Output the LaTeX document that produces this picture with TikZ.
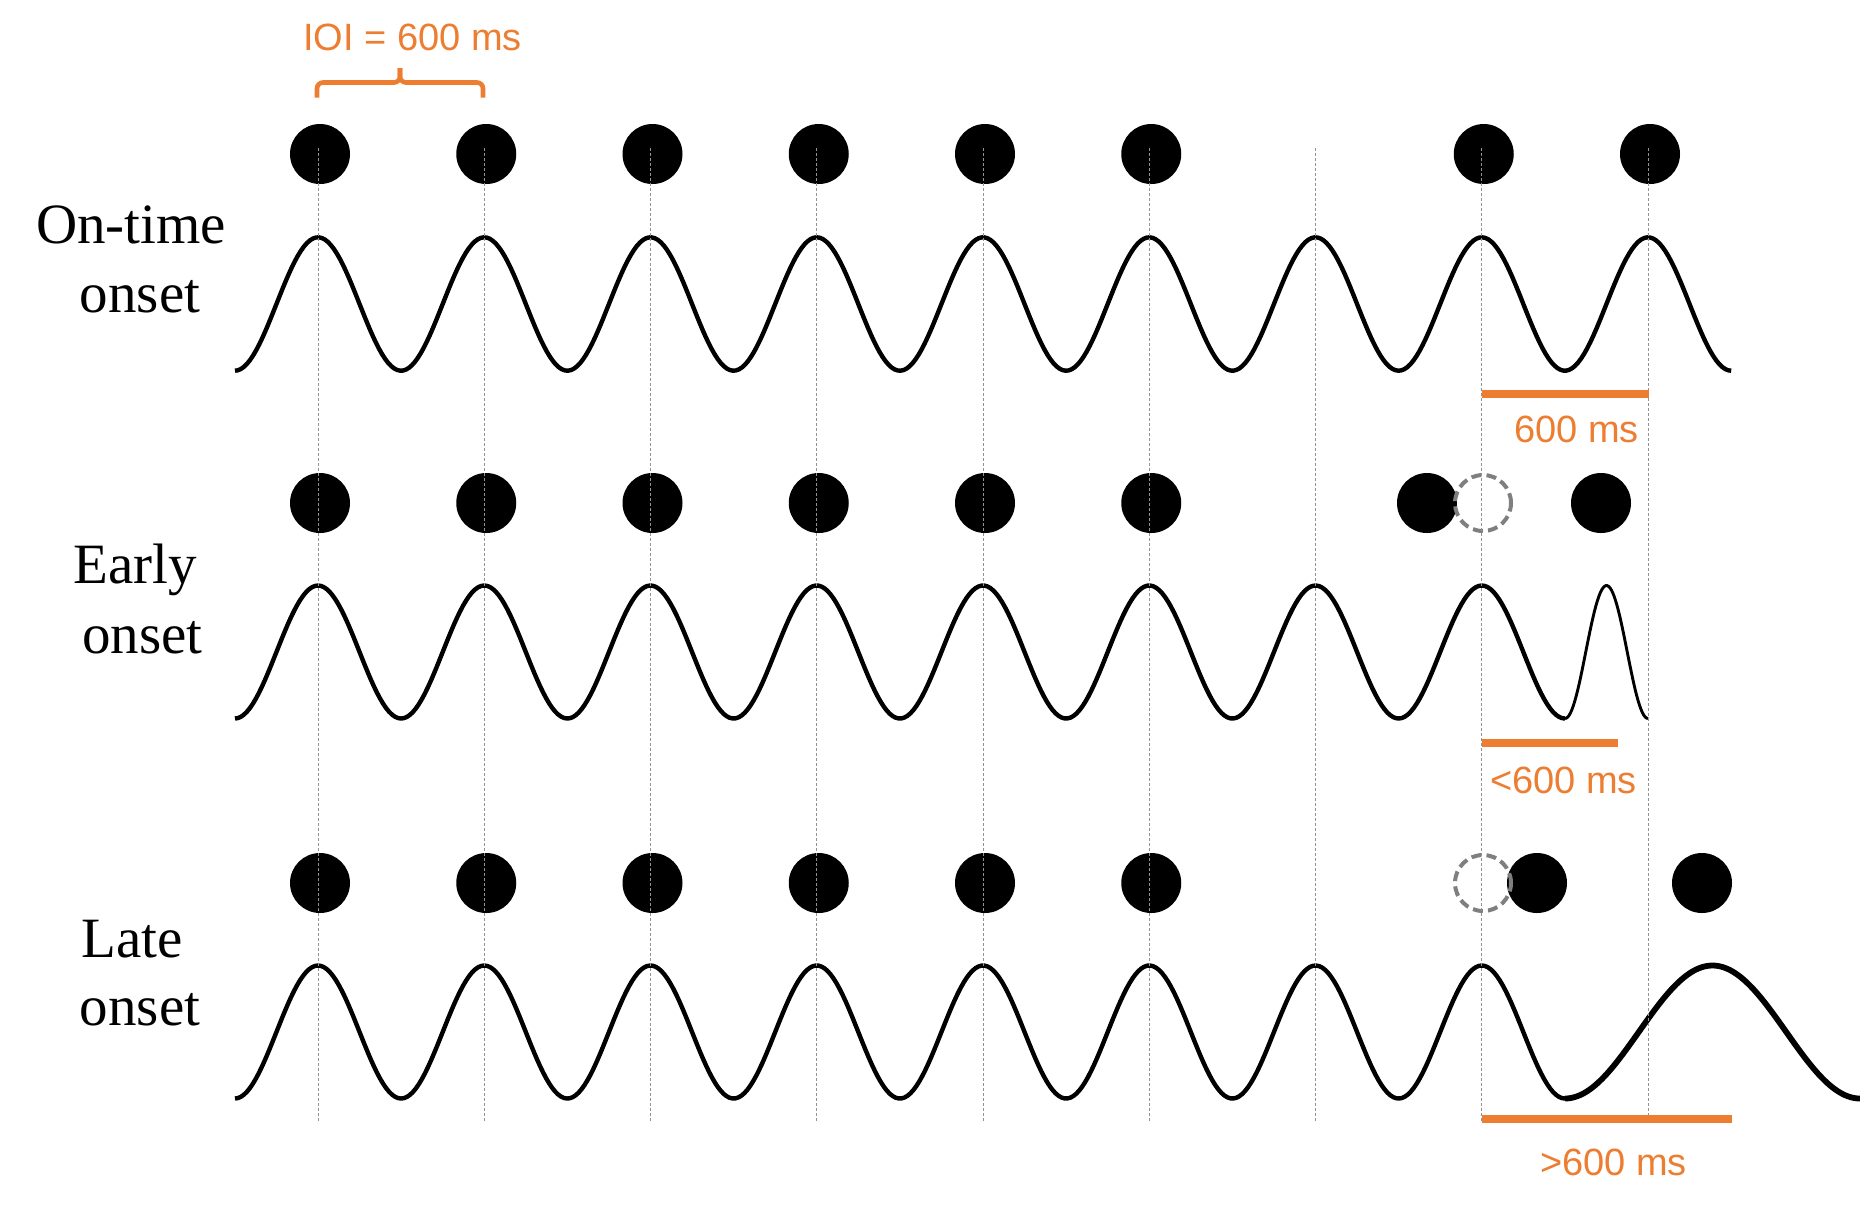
\documentclass[tikz,border=0pt]{standalone}
\usepackage{fontspec}
\setmainfont{Liberation Serif}
\newfontfamily\arialf{Liberation Sans}
\definecolor{orng}{HTML}{ED7D31}
\definecolor{dgray}{HTML}{7F7F7F}
\begin{document}
\begin{tikzpicture}[x=0.5pt,y=-0.5pt,
 dot/.style={circle,fill=black,inner sep=0,minimum size=30pt},
 ghost/.style={circle,draw=dgray,line width=2pt,dash pattern=on 5pt off 2.6pt,inner sep=0,minimum size=28pt},
 wave/.style={line width=2.2pt,line join=round},
 guide/.style={draw=gray!85,line width=0.5pt,dash pattern=on 1.5pt off 1pt},
 bar/.style={draw=orng,line width=4pt},
 brace/.style={draw=orng,line width=2.3pt,rounded corners=3pt},
 lbl/.style={font=\fontsize{28.5}{34}\selectfont,inner sep=0,anchor=base},
 olbl/.style={font=\arialf\fontsize{19}{23}\selectfont,text=orng,inner sep=0,anchor=base}]
\useasboundingbox (0,0) rectangle (1860,1207);

% waves
\draw[wave] plot[domain=235:1731.2,samples=500] (\x,{304-66.7*cos(((\x-318)/166.25)*360)});
\draw[wave] plot[domain=235:1565,samples=450] (\x,{652-66.5*cos(((\x-318)/166.25)*360)});
\draw[wave,line width=1.45pt] plot[domain=1565:1648,samples=60] (\x,{652-66.5*cos(((\x-1606.5)/83)*360)});
\draw[wave] plot[domain=235:1565,samples=450] (\x,{1032-66.5*cos(((\x-318)/166.25)*360)});
\draw[wave,line width=2.9pt] plot[domain=1565:1860,samples=120] (\x,{1032-66.5*cos(((\x-1712.5)/295)*360)});

% dots row 1
\foreach \k in {0,...,5,7,8} \node[dot] (a\k) at ({320+166.25*\k},154) {};
% dots row 2
\foreach \k in {0,...,5} \node[dot] (b\k) at ({320+166.25*\k},503) {};
\node[dot] (bearly) at (1427,503) {};
\node[dot] (blast) at (1601,503) {};
\node[ghost] (bghost) at (1483,503) {};
% dots row 3
\foreach \k in {0,...,5} \node[dot] (c\k) at ({320+166.25*\k},883) {};
\node[dot] (clate) at (1537,883) {};
\node[dot] (clast) at (1702,883) {};
\node[ghost] (cghost) at (1483,883) {};

% guide lines
\foreach \k in {0,...,8} {
  \coordinate (gt\k) at ({318+166.25*\k},148);
  \coordinate (gb\k) at ({318+166.25*\k},1123);
  \draw[guide] (gt\k) -- (gb\k);
}

% bars
\coordinate (p1a) at (1482,394); \coordinate (p1b) at (1649,394);
\coordinate (p2a) at (1482,743); \coordinate (p2b) at (1618,743);
\coordinate (p3a) at (1482,1119); \coordinate (p3b) at (1732,1119);
\draw[bar] (p1a) -- (p1b);
\draw[bar] (p2a) -- (p2b);
\draw[bar] (p3a) -- (p3b);

% brace
\draw[brace] (317,97.5) -- (317,82.5) -- (400,82.5) -- (400,68);
\draw[brace] (483,97.5) -- (483,82.5) -- (400,82.5) -- (400,68);

% orange labels
\node[olbl] (ioi) at (412.5,50) {IOI = 600 ms};
\node[olbl] (t1) at (1576.5,442) {600 ms};
\node[olbl] (t2) at (1563.5,793) {<600 ms};
\node[olbl] (t3) at (1613.5,1175) {>600 ms};

% row labels
\node[lbl] (l1a) at (131,243) {On-time};
\node[lbl] (l1b) at (140,312) {onset};
\node[lbl] (l2a) at (135,583) {Early};
\node[lbl] (l2b) at (142.5,653) {onset};
\node[lbl] (l3a) at (132,957) {Late};
\node[lbl] (l3b) at (140,1025) {onset};
\end{tikzpicture}
\end{document}
